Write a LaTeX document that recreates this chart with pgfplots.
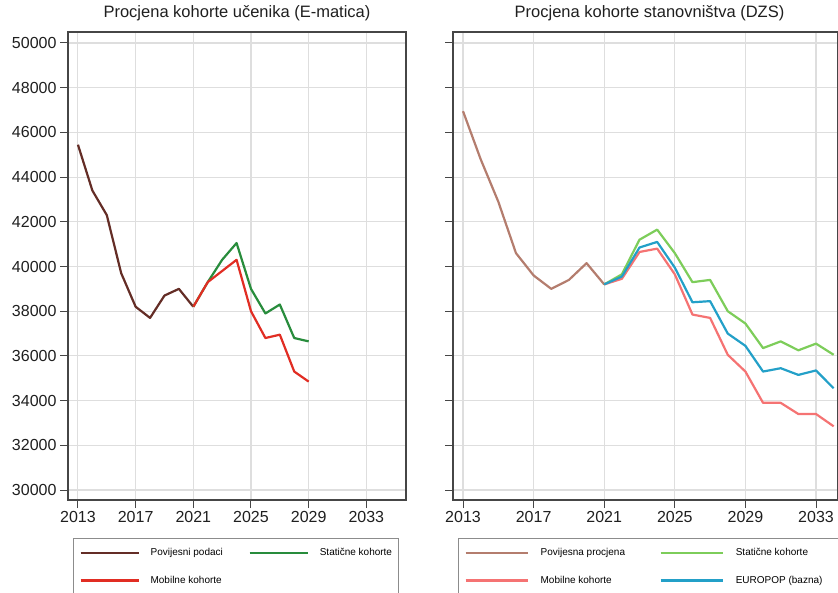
\documentclass[border=0pt]{standalone}
\usepackage{fontspec}
\setmainfont{Liberation Sans}
\usepackage{pgfplots}
\pgfplotsset{compat=1.18}

\definecolor{hbrown}{RGB}{100,45,38}
\definecolor{hgreen}{RGB}{40,140,60}
\definecolor{hred}{RGB}{225,45,35}
\definecolor{pbrown}{RGB}{180,125,110}
\definecolor{pgreen}{RGB}{125,205,90}
\definecolor{pred}{RGB}{245,115,115}
\definecolor{pblue}{RGB}{35,160,200}
\definecolor{framegray}{RGB}{70,70,70}
\definecolor{gridgray}{RGB}{222,222,222}

\pgfplotsset{
  ln/.style={no markers, line width=2.2bp, line join=round},
  panel/.style={
    scale only axis,
    anchor=south west,
    height=468bp,
    ymin=29553, ymax=50492,
    ytick={30000,32000,...,50000},
    xtick={2013,2017,...,2033},
    scaled y ticks=false,
    scaled x ticks=false,
    /pgf/number format/1000 sep={},
    /pgf/number format/assume math mode=true,
    tick label style={font=\fontsize{16bp}{19bp}\selectfont, text=black!88},
    tick align=outside,
    tick pos=left,
    major tick length=8bp,
    major tick style={framegray, line width=1bp},
    axis line style={framegray, line width=1.3bp},
    xmajorgrids, ymajorgrids,
    grid style={gridgray, line width=1.1bp},
    title style={font=\fontsize{16.5bp}{19bp}\selectfont, text=black!88, at={(0.5,1)}, anchor=base, yshift=9bp},
    legend columns=2,
    legend cell align=left,
    legend style={anchor=north west, draw=black!45, line width=0.8bp,
      font=\fontsize{10bp}{12bp}\selectfont,
      inner xsep=6bp, inner ysep=8bp, nodes={inner sep=2bp},
      row sep=15bp},
  }
}

\begin{document}
\begin{tikzpicture}
\useasboundingbox (0,0) rectangle (838bp,-593bp);

\begin{axis}[panel,
  at={(68bp,-500bp)},
  width=338bp,
  xmin=2012.31, xmax=2035.75,
  title={Procjena kohorte učenika (E-matica)},
  legend style={at={(axis description cs:0.0148,-0.0812)},
    /tikz/every odd column/.append style={column sep=9bp},
    /tikz/every even column/.append style={column sep=12bp}},
  legend image code/.code={\draw[#1] (0bp,0bp) -- (58bp,0bp);},
]
\addplot[ln, color=hbrown] coordinates {
(2013,45450) (2014,43400) (2015,42300) (2016,39700) (2017,38200)
(2018,37700) (2019,38700) (2020,39000) (2021,38200)
};
\addlegendentry{\makebox[84bp][l]{Povijesni podaci}}
\addplot[ln, color=hgreen] coordinates {
(2021,38200) (2022,39300) (2023,40300) (2024,41050) (2025,39000)
(2026,37900) (2027,38300) (2028,36800) (2029,36650)
};
\addlegendentry{\makebox[71bp][l]{Statične kohorte}}
\addplot[ln, color=hred] coordinates {
(2021,38200) (2022,39300) (2023,39800) (2024,40300) (2025,38000)
(2026,36800) (2027,36950) (2028,35300) (2029,34850)
};
\addlegendentry{Mobilne kohorte}
\end{axis}

\begin{axis}[panel,
  at={(453bp,-500bp)},
  width=385bp,
  xmin=2012.433, xmax=2034.246,
  yticklabels={},
  title={Procjena kohorte stanovništva (DZS)},
  title style={xshift=4bp},
  legend style={at={(axis description cs:0.013,-0.0812)},
    /tikz/every odd column/.append style={column sep=10bp},
    /tikz/every even column/.append style={column sep=12bp}},
  legend image code/.code={\draw[#1] (0bp,0bp) -- (62bp,0bp);},
]
\addplot[ln, color=pbrown] coordinates {
(2013,46950) (2014,44800) (2015,42900) (2016,40600) (2017,39600)
(2018,39000) (2019,39400) (2020,40150) (2021,39200)
};
\addlegendentry{\makebox[105bp][l]{Povijesna procjena}}
\addplot[ln, color=pgreen] coordinates {
(2021,39200) (2022,39650) (2023,41200) (2024,41650) (2025,40600)
(2026,39300) (2027,39400) (2028,38000) (2029,37450) (2030,36350)
(2031,36650) (2032,36250) (2033,36550) (2034,36050)
};
\addlegendentry{\makebox[100bp][l]{Statične kohorte}}
\addplot[ln, color=pred] coordinates {
(2021,39200) (2022,39450) (2023,40650) (2024,40800) (2025,39650)
(2026,37850) (2027,37700) (2028,36050) (2029,35300) (2030,33900)
(2031,33900) (2032,33400) (2033,33400) (2034,32850)
};
\addlegendentry{Mobilne kohorte}
\addplot[ln, color=pblue] coordinates {
(2021,39200) (2022,39550) (2023,40850) (2024,41100) (2025,39950)
(2026,38400) (2027,38450) (2028,37000) (2029,36450) (2030,35300)
(2031,35450) (2032,35150) (2033,35350) (2034,34550)
};
\addlegendentry{EUROPOP (bazna)}
\end{axis}
\end{tikzpicture}
\end{document}
